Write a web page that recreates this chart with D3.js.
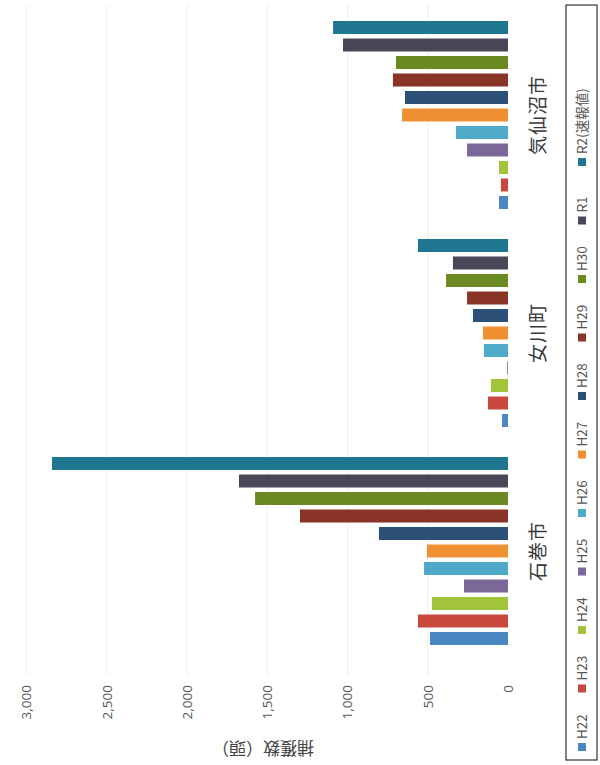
<!DOCTYPE html>
<html>
<head>
<meta charset="utf-8">
<script src="https://cdn.jsdelivr.net/npm/d3@7"></script>
<style>
  body { margin: 0; background: #fff; }
  svg { display: block; }
</style>
</head>
<body>
<script>
// data (number of animals caught)
var categories = ["石巻市", "女川町", "気仙沼市"];
var seriesNames = ["H22", "H23", "H24", "H25", "H26", "H27", "H28", "H29", "H30", "R1", "R2(速報値)"];
var ishinomaki = [486, 561, 474, 274, 523, 505, 804, 1296, 1576, 1676, 2841];
var onagawa = [37, 125, 106, 5, 150, 156, 218, 255, 386, 343, 561];
var kesennuma = [56, 44, 56, 255, 324, 660, 642, 717, 698, 1028, 1090];
var yTicks = [0, 500, 1000, 1500, 2000, 2500, 3000];
var colors = ["#4a86bf", "#c9483d", "#a2c43a", "#7a6898", "#4fa9c8", "#ef9132",
              "#2d5078", "#8a3428", "#6b8a22", "#4a4658", "#1f7690"];

var valuesByCat = [ishinomaki, onagawa, kesennuma];

var W = 600, H = 765;
var svg = d3.select("body").append("svg")
  .attr("width", W)
  .attr("height", H);

// chart is drawn as a normal column chart 765 wide x 600 tall, then turned on its side
var g = svg.append("g")
  .attr("transform", "translate(0," + H + ") rotate(-90)");

var x = d3.scaleBand()
  .domain(categories)
  .range([105, 759])
  .paddingInner(0)
  .paddingOuter(0);

var xs = d3.scaleBand()
  .domain(seriesNames)
  .range([0, x.bandwidth()])
  .paddingInner(0.257)
  .paddingOuter(0.857);

var y = d3.scaleLinear()
  .domain([0, 3000])
  .range([508, 26.5]);

// gridlines
g.append("g")
  .selectAll("line")
  .data(yTicks.slice(1))
  .enter()
  .append("line")
  .attr("x1", 90)
  .attr("x2", 760)
  .attr("y1", d => y(d))
  .attr("y2", d => y(d))
  .style("stroke", "#eeeeee")
  .style("stroke-width", 1);

// value axis labels
var yAxis = d3.axisLeft(y)
  .tickValues(yTicks)
  .tickSize(0)
  .tickPadding(0)
  .tickFormat(d3.format(","));

var ya = g.append("g")
  .attr("transform", "translate(80,0)")
  .call(yAxis);
ya.select(".domain").remove();
ya.selectAll("text")
  .style("font-family", "'Open Sans', 'Liberation Sans', sans-serif")
  .style("font-size", "13.5px")
  .style("fill", "#555");

// axis title
g.append("text")
  .attr("transform", "translate(17,263) rotate(-90)")
  .attr("text-anchor", "middle")
  .attr("dy", "0.35em")
  .style("font-family", "'Noto Sans CJK JP', sans-serif")
  .style("font-size", "17px")
  .style("fill", "#444")
  .text("捕獲数（頭）");

// bars
var groups = g.selectAll(".cat")
  .data(categories)
  .enter()
  .append("g")
  .attr("class", "cat")
  .attr("transform", d => "translate(" + x(d) + ",0)");

groups.selectAll("rect")
  .data((d, i) => valuesByCat[i].map((v, j) => ({ name: seriesNames[j], value: v, k: j })))
  .enter()
  .append("rect")
  .attr("x", d => xs(d.name))
  .attr("width", xs.bandwidth())
  .attr("y", d => y(d.value))
  .attr("height", d => y(0) - y(d.value))
  .style("fill", d => colors[d.k]);

// category labels
g.append("g")
  .selectAll("text")
  .data(categories)
  .enter()
  .append("text")
  .attr("x", d => x(d) + x.bandwidth() / 2)
  .attr("y", 538)
  .attr("dy", "0.35em")
  .attr("text-anchor", "middle")
  .style("font-family", "'Noto Sans CJK JP', sans-serif")
  .style("font-size", "19px")
  .style("letter-spacing", "1px")
  .style("fill", "#3a3a3a")
  .text(d => d);

// legend
var legend = g.append("g");
legend.append("rect")
  .attr("x", 5)
  .attr("y", 566)
  .attr("width", 755)
  .attr("height", 31)
  .style("fill", "none")
  .style("stroke", "#333")
  .style("stroke-width", 1.2);

var lx = d3.scalePoint()
  .domain(seriesNames)
  .range([18, 603]);

var items = legend.selectAll(".item")
  .data(seriesNames)
  .enter()
  .append("g")
  .attr("class", "item")
  .attr("transform", d => "translate(" + lx(d) + ",582)");

items.append("rect")
  .attr("x", -4)
  .attr("y", -4)
  .attr("width", 8)
  .attr("height", 8)
  .style("fill", (d, i) => colors[i]);

items.append("text")
  .attr("x", 8)
  .attr("dy", "0.35em")
  .style("font-family", "'Noto Sans CJK JP', sans-serif")
  .style("font-size", "13.5px")
  .style("fill", "#555")
  .text(d => d);
</script>
</body>
</html>
